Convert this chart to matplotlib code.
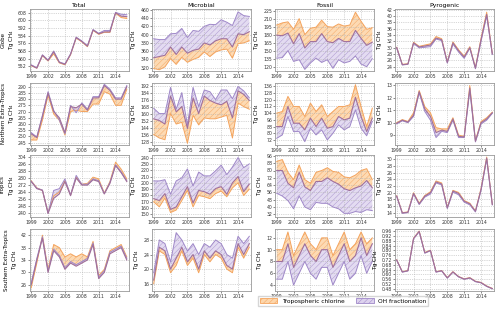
import numpy as np
import matplotlib
matplotlib.use("Agg")
import matplotlib.pyplot as plt
from matplotlib.patches import Patch

plt.rcParams['font.family'] = ['DejaVu Sans']
plt.rcParams['hatch.linewidth'] = 0.35

# --- data (Tg CH4), 1999-2016 ---
years = list(range(1999, 2017))
xticks = [1999, 2002, 2005, 2008, 2011, 2014]
columns = ["Total", "Microbial", "Fossil", "Pyrogenic"]
regions = ["Globe", "Northern Extra-Tropics", "Tropics", "Southern Extra-Tropics"]

# Globe
glo_tot_mid = [553, 550, 563.5, 558, 567, 556, 554, 564.5, 582, 578, 573, 590, 586, 588, 588, 608, 604.5, 604]
glo_tot_cl = [552.5, 550, 563, 557.5, 565, 555.5, 553.5, 564, 581.5, 577.5, 572.5, 589.5, 585.5, 587.5, 587.5, 607.5, 603, 602]
glo_tot_oh = [553.5, 550.5, 564, 558.5, 568, 556.5, 554.5, 565, 582.5, 578.5, 573.5, 590.5, 586.5, 589.5, 589.5, 608.5, 606.5, 606]

glo_mic_mid = [344, 347, 350, 370, 352, 370, 355, 362, 365, 380, 375, 385, 390, 390, 370, 402, 400, 407]
glo_mic_cl = [318, 315, 322, 342, 328, 345, 333, 340, 345, 358, 347, 358, 363, 365, 343, 378, 380, 385]
glo_mic_oh = [390, 388, 388, 402, 403, 415, 393, 410, 408, 420, 425, 424, 436, 430, 422, 455, 446, 444]

glo_fos_mid = [179, 178, 183, 163, 182, 155, 167, 167, 182, 167, 165, 173, 167, 167, 188, 173, 160, 166]
glo_fos_cl = [198, 202, 204, 190, 210, 180, 192, 194, 207, 195, 194, 200, 196, 198, 222, 205, 190, 193]
glo_fos_oh = [136, 137, 150, 130, 133, 115, 127, 136, 128, 133, 117, 133, 127, 130, 140, 125, 120, 135]

glo_pyr_mid = [30, 24.6, 24.8, 31.5, 30.2, 30.5, 30.8, 33, 32.5, 25.3, 31.5, 29, 27, 30, 23.5, 32.5, 40.5, 28]
glo_pyr_cl = [30.1, 24.7, 24.9, 31.7, 30.4, 30.8, 31.2, 33.5, 32.8, 25.5, 31.8, 29.3, 27.3, 30.3, 23.7, 33, 41.2, 28.2]
glo_pyr_oh = [29.9, 24.5, 24.7, 31.3, 29.9, 30.1, 30.3, 32.7, 32.2, 25.1, 31.1, 28.6, 26.6, 29.8, 23.3, 32, 40, 27.8]

# Northern Extra-Tropics
net_tot_mid = [252, 249, 266, 285, 270, 265, 253, 274, 273, 276, 271, 281, 281, 291, 287, 280, 280, 290]
net_tot_cl = [247, 247, 263, 283, 268, 263, 251, 270, 271, 270, 270, 276, 276, 286, 284, 275, 275, 288]
net_tot_oh = [253, 249.5, 267, 286, 271, 263, 252, 275, 269, 277, 272, 282, 282, 292, 288, 281, 281, 291]

net_mic_mid = [154, 152, 148, 180, 162, 168, 143, 178, 160, 180, 175, 172, 170, 174, 155, 186, 182, 175]
net_mic_cl = [136, 132, 130, 160, 148, 150, 126, 158, 147, 155, 154, 154, 156, 158, 132, 172, 168, 165]
net_mic_oh = [166, 160, 160, 190, 165, 184, 147, 190, 168, 187, 185, 176, 187, 187, 177, 191, 186, 178]

net_fos_mid = [88, 88, 112, 92, 92, 84, 98, 88, 98, 86, 88, 100, 96, 98, 123, 100, 82, 98]
net_fos_cl = [104, 106, 124, 112, 112, 100, 116, 106, 114, 100, 106, 112, 112, 114, 138, 112, 88, 110]
net_fos_oh = [74, 78, 100, 82, 82, 70, 86, 78, 84, 72, 80, 90, 84, 88, 108, 86, 77, 94]

net_pyr_mid = [9.95, 10.2, 10.05, 10.6, 12.5, 11.1, 10.5, 9.2, 9.4, 9.3, 10.3, 8.9, 8.85, 12.8, 8.5, 10, 10.3, 10.8]
net_pyr_cl = [10.0, 10.25, 10.1, 10.8, 12.6, 11.3, 10.8, 9.6, 9.5, 9.5, 10.4, 9.0, 8.9, 13.0, 8.55, 10.1, 10.4, 10.85]
net_pyr_oh = [9.9, 10.15, 10.0, 10.5, 12.4, 10.9, 10.2, 8.8, 9.3, 9.2, 10.2, 8.8, 8.8, 12.6, 8.45, 9.9, 10.2, 10.75]

# Tropics
tro_tot_mid = [276, 268, 266, 240, 257, 262, 276, 260, 280, 272, 272, 278, 276, 262, 274, 294, 286, 276]
tro_tot_cl = [277, 269, 266, 241, 260, 264, 277, 261, 281, 273, 274, 281, 279, 263, 276, 298, 290, 279]
tro_tot_oh = [276.5, 268.5, 266.5, 240.5, 266, 268, 279, 261, 283, 273, 273, 279, 277, 262.5, 275, 295, 287, 277]

tro_mic_mid = [175, 172, 183, 158, 162, 178, 194, 168, 188, 186, 182, 191, 194, 182, 200, 210, 186, 198]
tro_mic_cl = [170, 162, 176, 153, 157, 172, 188, 162, 180, 178, 175, 183, 187, 178, 192, 200, 180, 190]
tro_mic_oh = [203, 203, 205, 182, 203, 208, 222, 195, 217, 211, 211, 219, 228, 213, 225, 240, 224, 230]

tro_fos_mid = [80, 80, 66, 61, 78, 62, 58, 68, 68, 72, 68, 65, 60, 58, 61, 63, 69, 61]
tro_fos_cl = [90, 92, 78, 70, 86, 70, 66, 78, 80, 83, 79, 78, 73, 72, 75, 80, 82, 70]
tro_fos_oh = [55, 52, 47, 38, 52, 40, 37, 45, 44, 44, 40, 38, 33, 33, 35, 34, 37, 36]

tro_pyr_mid = [19, 14, 14.2, 19.8, 16.7, 19, 20, 23.2, 22.6, 15.5, 20.5, 19.8, 17.5, 16.7, 14.5, 21, 30.3, 16.5]
tro_pyr_cl = [19.1, 14.1, 14.3, 20.0, 16.9, 19.2, 20.3, 23.5, 22.9, 15.7, 20.7, 20.1, 17.7, 16.9, 14.6, 21.3, 30.6, 16.6]
tro_pyr_oh = [18.9, 13.9, 14.1, 19.6, 16.5, 18.7, 19.6, 22.9, 22.3, 15.3, 20.2, 19.4, 17.2, 16.4, 14.3, 20.7, 29.9, 16.4]

# Southern Extra-Tropics
set_tot_mid = [26, 34, 41, 30, 37, 35, 31, 33, 32, 33, 34, 39, 28, 30, 36, 37, 38, 34]
set_tot_cl = [25, 33, 42, 31, 39, 38, 35, 36, 35, 36, 35, 40, 29, 31, 37, 38, 39, 35]
set_tot_oh = [26.5, 34.5, 41.5, 30.5, 37.5, 35.5, 31.5, 33.5, 32.5, 33.5, 34.5, 39.5, 28.5, 30.5, 36.5, 37.5, 38.5, 34.5]

set_mic_mid = [17, 26, 25, 20, 23, 26, 22, 24, 20, 25, 23, 25, 24, 21, 20, 27, 24, 27]
set_mic_cl = [16, 25, 24, 19, 21, 25, 21, 23, 19, 24, 22, 24, 23, 20, 19, 26, 23, 26]
set_mic_oh = [19, 28, 27, 22, 30, 28, 25, 27, 24, 27, 26, 28, 27, 24, 23, 29, 27, 29]

set_fos_mid = [8, 8, 11, 7, 9, 11, 9, 8, 10, 10, 7, 9, 11, 8, 9, 12, 9, 11]
set_fos_cl = [10, 10, 13, 9, 11, 13, 11, 10, 12, 12, 9, 11, 13, 10, 11, 13, 11, 12]
set_fos_oh = [5, 5, 8, 4, 6, 8, 6, 5, 7, 7, 4, 6, 8, 5, 6, 9, 6, 8]

set_pyr_mid = [0.72, 0.62, 0.63, 0.90, 0.96, 0.78, 0.80, 0.62, 0.63, 0.57, 0.62, 0.58, 0.56, 0.57, 0.54, 0.53, 0.50, 0.48]
set_pyr_cl = [0.722, 0.622, 0.632, 0.903, 0.963, 0.783, 0.803, 0.622, 0.632, 0.572, 0.622, 0.582, 0.562, 0.572, 0.542, 0.532, 0.502, 0.482]
set_pyr_oh = [0.718, 0.618, 0.628, 0.897, 0.957, 0.777, 0.797, 0.618, 0.628, 0.568, 0.618, 0.578, 0.558, 0.568, 0.538, 0.528, 0.498, 0.478]

panels = [
    [(glo_tot_mid, glo_tot_cl, glo_tot_oh), (glo_mic_mid, glo_mic_cl, glo_mic_oh),
     (glo_fos_mid, glo_fos_cl, glo_fos_oh), (glo_pyr_mid, glo_pyr_cl, glo_pyr_oh)],
    [(net_tot_mid, net_tot_cl, net_tot_oh), (net_mic_mid, net_mic_cl, net_mic_oh),
     (net_fos_mid, net_fos_cl, net_fos_oh), (net_pyr_mid, net_pyr_cl, net_pyr_oh)],
    [(tro_tot_mid, tro_tot_cl, tro_tot_oh), (tro_mic_mid, tro_mic_cl, tro_mic_oh),
     (tro_fos_mid, tro_fos_cl, tro_fos_oh), (tro_pyr_mid, tro_pyr_cl, tro_pyr_oh)],
    [(set_tot_mid, set_tot_cl, set_tot_oh), (set_mic_mid, set_mic_cl, set_mic_oh),
     (set_fos_mid, set_fos_cl, set_fos_oh), (set_pyr_mid, set_pyr_cl, set_pyr_oh)],
]

# y ticks for each panel
yticks = [
    [np.arange(552, 609, 8), np.arange(320, 461, 20), np.arange(120, 226, 15), np.arange(24, 43, 2)],
    [np.arange(245, 291, 5), np.arange(128, 193, 8), np.arange(72, 137, 8), np.arange(9, 14, 1)],
    [np.arange(240, 305, 8), np.arange(150, 241, 10), np.arange(32, 97, 8), np.arange(14, 31, 2)],
    [np.arange(26, 43, 4), np.arange(16, 29, 4), np.arange(4, 13, 2), np.arange(0.48, 0.97, 0.04)],
]
ylims = [
    [(547, 612), (312, 462), (112, 228), (22.6, 42.2)],
    [(243, 293), (124, 195), (66, 140), (8.2, 13.2)],
    [(236, 306), (146, 244), (29, 97), (12.8, 31.2)],
    [(24, 44), (14, 31), (3, 13.5), (0.46, 0.98)],
]

# --- style ---
CL_FACE, CL_EDGE = "#fdd6ab", "#f4a45e"
OH_FACE, OH_EDGE = "#ddd2ee", "#9f88c8"

W, H = 500, 309
fig = plt.figure(figsize=(5.0, 3.09), dpi=100)

col_left = [29.5, 152, 275, 395]
row_top = [9, 83, 155, 229]
ax_w, ax_h = 99, 62

for r in range(4):
    for c in range(4):
        ax = fig.add_axes([col_left[c] / W, 1 - (row_top[r] + ax_h) / H, ax_w / W, ax_h / H])
        mid, cl, oh = panels[r][c]
        ax.fill_between(years, mid, cl, facecolor=CL_FACE, edgecolor=CL_EDGE,
                        hatch="//////", linewidth=0, alpha=0.9)
        ax.fill_between(years, mid, oh, facecolor=OH_FACE, edgecolor=OH_EDGE,
                        hatch="//////", linewidth=0, alpha=0.8)
        ax.plot(years, cl, color=CL_EDGE, lw=0.7)
        ax.plot(years, oh, color=OH_EDGE, lw=0.7)
        ax.plot(years, mid, color="#a0709a", lw=0.8)

        ax.set_xlim(1998.7, 2016.3)
        ax.set_ylim(*ylims[r][c])
        ax.set_xticks(xticks)
        ax.set_yticks(yticks[r][c])
        if r == 3 and c == 3:
            ax.set_yticklabels([f"{v:.2f}" for v in yticks[r][c]])
        ax.tick_params(labelsize=3.3, length=1.2, width=0.4, pad=0.8, colors="#333333")
        ax.grid(True, linestyle=":", linewidth=0.5, color="#b0b0b0")
        for s in ax.spines.values():
            s.set_color("#999999")
            s.set_linewidth(0.6)

        if c == 0:
            ax.set_ylabel(f"{regions[r]}\nTg CH$_4$", fontsize=4.0, labelpad=1, linespacing=1.3)
        else:
            ax.set_ylabel("Tg CH$_4$", fontsize=4.0, labelpad=1.5)
        if r == 0:
            ax.set_title(columns[c], fontsize=4.4, pad=1.5)

handles = [
    Patch(facecolor=CL_FACE, edgecolor=CL_EDGE, hatch="//////", linewidth=0.6, label="Tropospheric chlorine"),
    Patch(facecolor=OH_FACE, edgecolor=OH_EDGE, hatch="//////", linewidth=0.6, label="OH fractionation"),
]
fig.legend(handles=handles, loc="center", bbox_to_anchor=(343 / W, 1 - 301 / H), ncol=2,
           fontsize=4.2, frameon=True, handlelength=3.0, handleheight=1.0, columnspacing=2.0,
           borderpad=0.3, edgecolor="#cccccc", fancybox=False)

fig.savefig("out.png", dpi=100)
